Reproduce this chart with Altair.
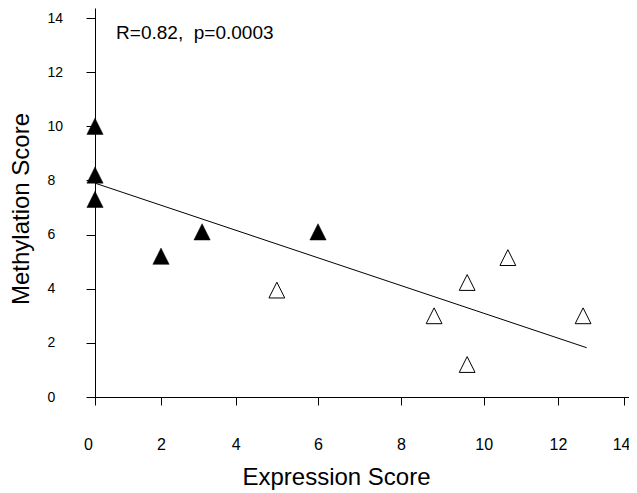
import altair as alt
import pandas as pd

# ---- data ----
filled_x = [0.0, 0.0, 0.0, 2.0, 3.1, 6.0]
filled_y = [10.0, 8.2, 7.3, 5.2, 6.1, 6.1]
open_x = [5.0, 8.8, 9.6, 9.6, 10.65, 12.76]
open_y = [3.95, 3.0, 4.23, 1.2, 5.15, 3.0]
fit_x = [0.0, 12.87]
fit_y = [7.9, 1.82]
tick_values = [0, 2, 4, 6, 8, 10, 12, 14]
annotation_text = ["R=0.82,\u00a0 p=0.0003"]
annotation_x = [0.64]
annotation_y = [13.24]

filled_df = pd.DataFrame({"x": filled_x, "y": filled_y})
open_df = pd.DataFrame({"x": open_x, "y": open_y})
fit_df = pd.DataFrame({"x": fit_x, "y": fit_y})
ann_df = pd.DataFrame({"x": annotation_x, "y": annotation_y, "t": annotation_text})

FONT = "Liberation Sans"
TRI = "M0,-1L1,1L-1,1Z"

# x axis of the original figure has unevenly spaced ticks: piecewise scale
x_scale = alt.Scale(
    domain=tick_values + [14.15],
    range=[0, 66, 140.7, 223, 306, 388.7, 463, 529, 534],
    zero=False, nice=False,
)
y_scale = alt.Scale(domain=[0, 14.37], zero=False, nice=False)

x_axis = alt.Axis(
    title="Expression Score", values=tick_values, format="d", grid=False,
    tickSize=8, labelPadding=31, labelFontSize=16, labelColor="black",
    labelAlign={"condition": {"test": "datum.value == 14", "value": "right"}, "value": "center"},
    labelOffset={"condition": [{"test": "datum.value == 14", "value": 6},
                               {"test": "datum.value == 0", "value": -7}], "value": 0},
    domainColor="black", tickColor="black", domainWidth=1, tickWidth=1,
    titleFontSize=24, titleFontWeight="normal", titleColor="black",
    titleX=241, titleY=87, titleAlign="center", titleBaseline="alphabetic",
    labelFlush=False, labelOverlap=False,
)
y_axis = alt.Axis(
    title="Methylation Score", values=tick_values, format="d", grid=False,
    tickSize=9, labelPadding=39, labelAlign="left", labelFontSize=14,
    labelColor="black", domainColor="black", tickColor="black",
    domainWidth=1, tickWidth=1,
    titleFontSize=24, titleFontWeight="normal", titleColor="black",
    titleX=-67, titleY=200.5, titleAngle=270, titleAlign="center",
    titleBaseline="alphabetic", labelFlush=False,
)

fit = alt.Chart(fit_df).mark_line(color="black", strokeWidth=1).encode(
    x=alt.X("x:Q", scale=x_scale, axis=x_axis),
    y=alt.Y("y:Q", scale=y_scale, axis=y_axis),
)
filled = alt.Chart(filled_df).mark_point(
    shape=TRI, filled=True, fill="black", stroke="black", strokeWidth=0.5,
    size=265, opacity=1,
).encode(x=alt.X("x:Q", scale=x_scale), y=alt.Y("y:Q", scale=y_scale))
opened = alt.Chart(open_df).mark_point(
    shape=TRI, filled=False, fill="white", fillOpacity=1, stroke="black",
    strokeWidth=1, size=250, opacity=1,
).encode(x=alt.X("x:Q", scale=x_scale), y=alt.Y("y:Q", scale=y_scale))
ann = alt.Chart(ann_df).mark_text(
    align="left", baseline="alphabetic", fontSize=19, color="black", font=FONT,
).encode(x=alt.X("x:Q", scale=x_scale), y=alt.Y("y:Q", scale=y_scale), text="t:N")

chart = alt.layer(fit, filled, opened, ann).properties(
    width=534, height=389,
    autosize=alt.AutoSizeParams(type="none"),
    padding={"left": 87, "top": 0, "right": 0, "bottom": 93},
).configure(font=FONT).configure_view(stroke=None)

chart.save("out.html", embed_options={"renderer": "svg", "actions": False})
